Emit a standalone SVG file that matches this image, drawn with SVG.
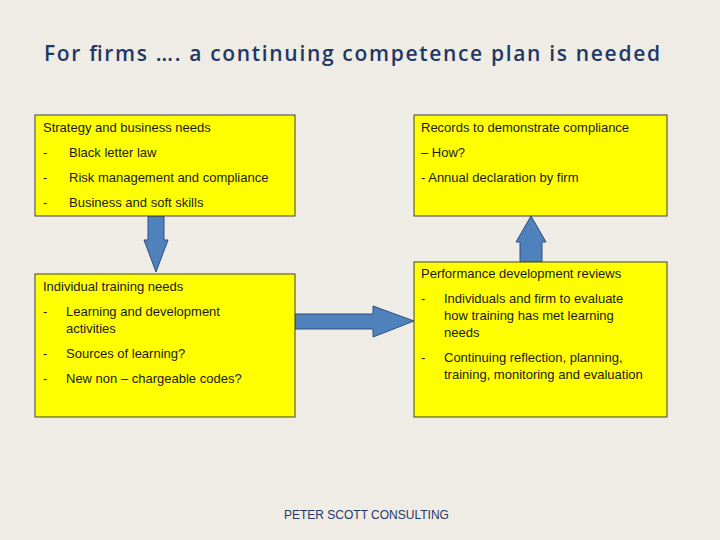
<svg xmlns="http://www.w3.org/2000/svg" width="720" height="540" viewBox="0 0 720 540">
<style>
.box{fill:#FFFF00;stroke:#404040;stroke-width:1}
.t{font-family:"Liberation Sans",Arial,sans-serif;font-size:13px;fill:#1a1a1a}
.arr{fill:#4F81BD;stroke:#2F4F7F;stroke-width:1}
</style>
<rect width="720" height="540" fill="#EEECE5"/>
<text x="44" y="61" font-family="Open Sans,sans-serif" font-size="21" font-weight="600" fill="#1F3864" textLength="616">For firms …. a continuing competence  plan is needed</text>
<g id="connectors">
<polygon class="arr" points="148,216 164,216 164,240 168,240 156,272 144,240 148,240"/>
<polygon class="arr" points="520,262 542,262 542,242 546,242 531,216 516,242 520,242"/>
<polygon class="arr" points="295,314 373,314 373,306 414,321 373,337 373,329 295,329"/>
</g>
<g id="strategy">
<rect class="box" x="35" y="115" width="260" height="101"/>
<text class="t" x="43" y="132">Strategy and business needs</text>
<text class="t" x="43" y="157">-</text><text class="t" x="69" y="157">Black letter law</text>
<text class="t" x="43" y="182">-</text><text class="t" x="69" y="182">Risk management and compliance</text>
<text class="t" x="43" y="207">-</text><text class="t" x="69" y="207">Business and soft skills</text>
</g>
<g id="records">
<rect class="box" x="414" y="115" width="253" height="101"/>
<text class="t" x="421" y="132">Records to demonstrate compliance</text>
<text class="t" x="421" y="157">– How?</text>
<text class="t" x="421" y="182">- Annual declaration by firm</text>
</g>
<g id="training">
<rect class="box" x="35" y="274" width="260" height="143"/>
<text class="t" x="43" y="291">Individual training needs</text>
<text class="t" x="43" y="316">-</text><text class="t" x="66" y="316">Learning and development</text>
<text class="t" x="66" y="333">activities</text>
<text class="t" x="43" y="358">-</text><text class="t" x="66" y="358">Sources of learning?</text>
<text class="t" x="43" y="383">-</text><text class="t" x="66" y="383">New non – chargeable codes?</text>
</g>
<g id="reviews">
<rect class="box" x="414" y="262" width="253" height="155"/>
<text class="t" x="421" y="278">Performance development reviews</text>
<text class="t" x="421" y="303">-</text><text class="t" x="444" y="303">Individuals and firm to evaluate</text>
<text class="t" x="444" y="320">how training has met learning</text>
<text class="t" x="444" y="337">needs</text>
<text class="t" x="421" y="362">-</text><text class="t" x="444" y="362">Continuing reflection, planning,</text>
<text class="t" x="444" y="379">training, monitoring and evaluation</text>
</g>
<text x="284" y="519" font-family="Liberation Sans,Arial,sans-serif" font-size="12" fill="#1F3864">PETER SCOTT CONSULTING</text>
</svg>
